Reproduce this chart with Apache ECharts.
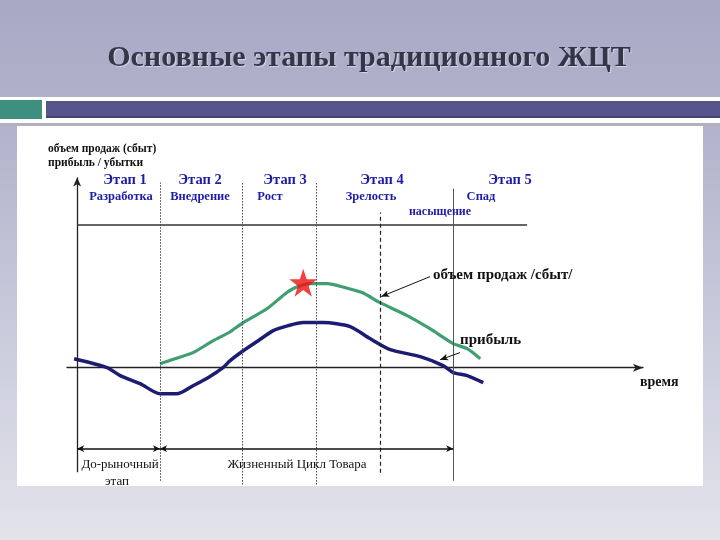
<!DOCTYPE html>
<html>
<head>
<meta charset="utf-8">
<script src="https://cdn.jsdelivr.net/npm/echarts@6/dist/echarts.min.js"></script>
<style>html,body{margin:0;padding:0;}#c{width:720px;height:540px;}</style>
</head>
<body>
<div id="c"></div>
<script>
// ---- data (time in relative units, value in relative units) ----
const salesX = [22.1, 26.5, 30.9, 36.3, 40.5, 44.3, 50.7, 55.5, 58.1, 62.1, 66.7, 71.5, 76.0, 80.8, 88.0, 94.1, 100.3, 104.0, 107.5];
const salesY = [2.1, 5.0, 7.9, 14.2, 18.5, 23.7, 31.1, 38.9, 42.1, 44.2, 44.2, 42.1, 39.5, 34.2, 27.4, 20.5, 12.6, 10.0, 4.7];
const profitX = [-0.8, 8.0, 11.5, 16.8, 22.1, 26.7, 30.9, 34.9, 38.9, 40.8, 44.3, 48.3, 52.3, 56.3, 60.3, 65.6, 72.8, 78.1, 83.5, 91.5, 97.6, 100.3, 104.0, 108.3];
const profitY = [4.7, 0.0, -4.2, -8.4, -13.7, -13.7, -9.5, -5.3, 0.0, 3.7, 8.9, 14.2, 19.5, 22.1, 23.7, 23.7, 21.6, 15.3, 9.5, 5.8, 1.1, -2.6, -4.2, -7.9];
const peakPoint = [60.3, 44.7];

const stageBounds = [22.1, 44.0, 63.7, 80.8, 100.3];
const stageTop = [97.4, 97.4, 97.4, 81.6, 94.2];
const stageBottom = [-59.5, -61.5, -61.5, -55.3, -59.5];
const capLevel = 75.3;     // upper horizontal line
const capEnd = 120;
const spanLevel = -42.6;   // bottom double-arrow level
const axisYTop = 100;
const axisYBottom = -55;

const stageTitles = ['Этап 1', 'Этап 2', 'Этап 3', 'Этап 4', 'Этап 5'];
const stageNames = ['Разработка', 'Внедрение', 'Рост', 'Зрелость', 'Спад'];
const extraStageName = 'насыщение';
const yAxisLabel = ['объем продаж (сбыт)', 'прибыль / убытки'];
const xAxisLabel = 'время';
const salesLabel = 'объем продаж /сбыт/';
const profitLabel = 'прибыль';
const spanLabels = ['До-рыночный', 'этап', 'Жизненный Цикл Товара'];
const titleText = 'Основные этапы традиционного ЖЦТ';

// arrows pointing to curves: [from, to]
const salesPointer = [[94.1, 47.9], [81.1, 37.4]];
const profitPointer = [[102.1, 7.9], [96.8, 4.2]];

// ---- chart ----
const chart = echarts.init(document.getElementById('c'), null, {renderer: 'canvas'});
const serif = '"Liberation Serif", "Times New Roman", serif';
const blue = '#1c1ca8';

function txt(text, x, y, font, fill, align) {
  return {type: 'text', silent: true, z: 10,
    style: {text: text, x: x, y: y, font: font, fill: fill,
      align: align || 'center', verticalAlign: 'middle',
      textAlign: align || 'center', textVerticalAlign: 'middle'}};
}

const graphics = [
  {type: 'rect', silent: true, z: -10, shape: {x: 0, y: 0, width: 720, height: 540},
    style: {fill: new echarts.graphic.LinearGradient(0, 0, 0, 1, [
      {offset: 0, color: '#a7a8c4'}, {offset: 0.25, color: '#b3b4cc'}, {offset: 1, color: '#e3e3ec'}])}},
  {type: 'rect', silent: true, z: -9, shape: {x: 0, y: 97, width: 720, height: 26}, style: {fill: '#ffffff'}},
  {type: 'rect', silent: true, z: -8, shape: {x: 0, y: 100, width: 42, height: 19}, style: {fill: '#3e8f80'}},
  {type: 'rect', silent: true, z: -8, shape: {x: 46, y: 101, width: 674, height: 17}, style: {fill: '#56568c'}},
  {type: 'rect', silent: true, z: -8, shape: {x: 46, y: 116, width: 674, height: 2}, style: {fill: '#444470'}},
  {type: 'rect', silent: true, z: -8, shape: {x: 0, y: 123, width: 720, height: 3}, style: {fill: '#b2b1c0'}},
  {type: 'rect', silent: true, z: -8, shape: {x: 17, y: 126, width: 686, height: 360}, style: {fill: '#ffffff'}},
  {type: 'text', silent: true, z: 10,
    style: {text: titleText, x: 369, y: 58, font: 'bold 30px ' + serif, fill: '#35354a',
      align: 'center', verticalAlign: 'middle', textAlign: 'center', textVerticalAlign: 'middle',
      textShadowColor: 'rgba(255,255,255,0.5)', textShadowOffsetX: 1, textShadowOffsetY: 1, textShadowBlur: 1}},
  txt(yAxisLabel[0], 48, 149, 'bold 11.5px ' + serif, '#111', 'left'),
  txt(yAxisLabel[1], 48, 163, 'bold 11.5px ' + serif, '#111', 'left'),
  txt(xAxisLabel, 640, 382, 'bold 14px ' + serif, '#111', 'left'),
  txt(salesLabel, 433, 275, 'bold 15px ' + serif, '#111', 'left'),
  txt(profitLabel, 460, 340, 'bold 15px ' + serif, '#111', 'left'),
  txt(spanLabels[0], 120, 465, '13px ' + serif, '#111'),
  txt(spanLabels[1], 117, 482, '13px ' + serif, '#111'),
  txt(spanLabels[2], 297, 465, '13px ' + serif, '#111'),
  txt(extraStageName, 440, 212, 'bold 12px ' + serif, blue)
];
const titleCx = [125, 200, 285, 382, 510];
const nameCx = [121, 200, 270, 371, 481];
stageTitles.forEach((t, i) => graphics.push(txt(t, titleCx[i], 180, 'bold 14.5px ' + serif, blue)));
stageNames.forEach((t, i) => graphics.push(txt(t, nameCx[i], 197, 'bold 12.5px ' + serif, blue)));

const thin = {color: '#222', width: 1, type: 'solid'};
const markData = [];
// y axis with arrow
markData.push([{coord: [0, axisYBottom], symbol: 'none', lineStyle: {color: '#222', width: 1.3, type: 'solid'}},
               {coord: [0, axisYTop], symbol: 'arrow', symbolSize: [6, 9]}]);
// upper horizontal line
markData.push([{coord: [0, capLevel], symbol: 'none', lineStyle: {color: '#333', width: 1.5, type: 'solid'}},
               {coord: [capEnd, capLevel], symbol: 'none'}]);
// stage boundaries
stageBounds.forEach((b, i) => {
  let ls;
  if (i === 4) ls = {color: '#555', width: 1, type: 'solid'};
  else if (i === 3) ls = {color: '#222', width: 1.2, type: [4, 3]};
  else ls = {color: '#444', width: 1, type: [1.5, 1.5]};
  markData.push([{coord: [b, stageBottom[i]], symbol: 'none', lineStyle: ls},
                 {coord: [b, stageTop[i]], symbol: 'none'}]);
});
// bottom spans
markData.push([{coord: [0, spanLevel], symbol: 'arrow', symbolSize: [5, 7], lineStyle: {color: '#111', width: 1.5, type: 'solid'}},
               {coord: [stageBounds[0], spanLevel], symbol: 'arrow', symbolSize: [5, 7]}]);
markData.push([{coord: [stageBounds[0], spanLevel], symbol: 'arrow', symbolSize: [5, 7], lineStyle: {color: '#111', width: 1.5, type: 'solid'}},
               {coord: [stageBounds[4], spanLevel], symbol: 'arrow', symbolSize: [5, 7]}]);
// pointers
markData.push([{coord: salesPointer[0], symbol: 'none', lineStyle: {color: '#111', width: 1, type: 'solid'}},
               {coord: salesPointer[1], symbol: 'arrow', symbolSize: [5, 8]}]);
markData.push([{coord: profitPointer[0], symbol: 'none', lineStyle: {color: '#111', width: 1, type: 'solid'}},
               {coord: profitPointer[1], symbol: 'arrow', symbolSize: [5, 8]}]);

const starPath = 'path://M50,0 L61.8,35.1 L98.9,35.1 L68.9,56.9 L80.3,92.7 L50,70.9 L19.7,92.7 L31.1,56.9 L1.1,35.1 L38.2,35.1 Z';

chart.setOption({
  animation: false,
  graphic: graphics,
  grid: {left: 67, right: 77, top: 170, bottom: 45},
  xAxis: {type: 'value', min: -2.7, max: 150.9,
    axisLine: {show: true, onZero: true, symbol: ['none', 'arrow'], symbolSize: [6, 10], lineStyle: {color: '#222', width: 1.3}},
    axisTick: {show: false}, axisLabel: {show: false}, splitLine: {show: false}},
  yAxis: {type: 'value', min: -67, max: 104,
    axisLine: {show: false}, axisTick: {show: false}, axisLabel: {show: false}, splitLine: {show: false}},
  series: [
    {type: 'line', name: 'profit', data: profitX.map((x, i) => [x, profitY[i]]),
      smooth: 0.25, showSymbol: false, symbol: 'none', z: 3,
      lineStyle: {color: '#1c1c72', width: 3.5},
      markLine: {silent: true, animation: false, label: {show: false}, emphasis: {disabled: true},
        lineStyle: thin, data: markData}},
    {type: 'line', name: 'sales', data: salesX.map((x, i) => [x, salesY[i]]),
      smooth: 0.25, showSymbol: false, symbol: 'none', z: 4,
      lineStyle: {color: '#3f9f72', width: 3.2}},
    {type: 'scatter', name: 'peak', data: [peakPoint], symbol: starPath, symbolSize: 28, z: 5,
      itemStyle: {color: '#f01010'}}
  ]
});
</script>
</body>
</html>
